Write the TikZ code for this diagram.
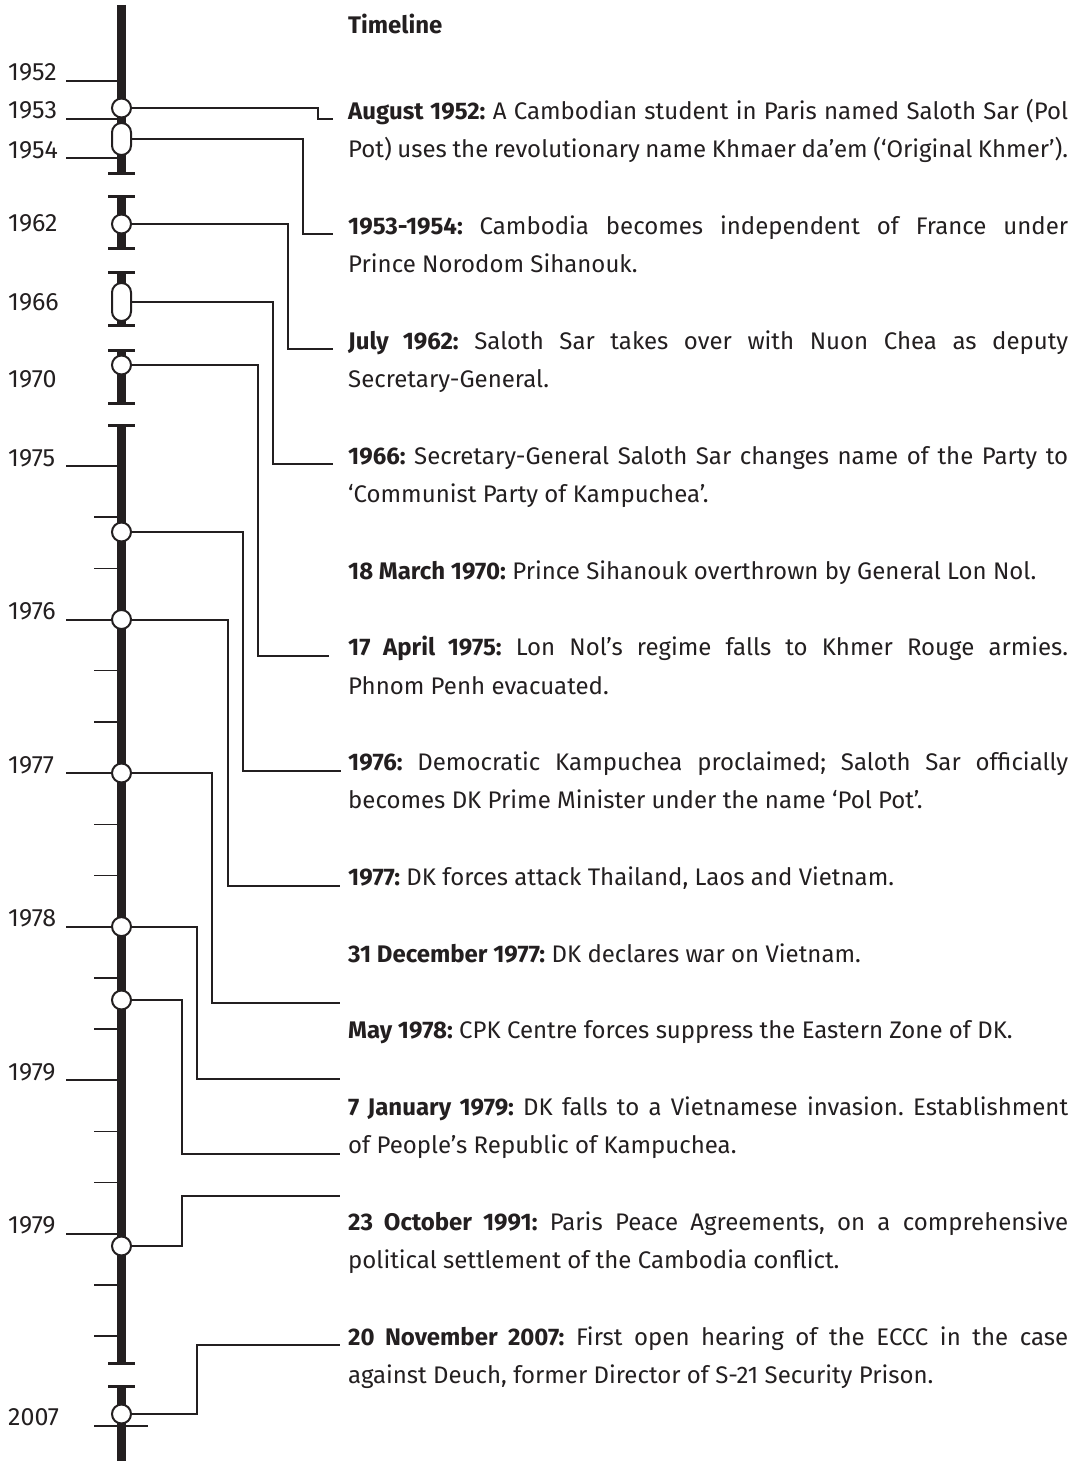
\documentclass[tikz,border=0pt]{standalone}
\usepackage{fontspec}
\setmainfont{Fira Sans}
\usetikzlibrary{positioning, calc}
\definecolor{tlblack}{HTML}{231F20}

\begin{document}
\frenchspacing
\hyphenpenalty=10000
\begin{tikzpicture}[
    x=1pt, y=-1pt,
    axisbar/.style={line width=9pt, tlblack},
    axiscap/.style={line width=3pt, tlblack},
    yeartick/.style={line width=2pt, tlblack},
    minortick/.style={line width=1.4pt, tlblack},
    dot/.style={circle, draw=tlblack, fill=white, line width=2pt, inner sep=0pt, minimum size=19pt},
    pill/.style={rectangle, rounded corners=9.5pt, draw=tlblack, fill=white, line width=2pt, inner sep=0pt, minimum width=19pt, minimum height=32pt},
    yearlabel/.style={anchor=base west, inner sep=0pt, text=tlblack, font=\fontsize{25}{28}\selectfont},
    eventtext/.style={anchor=base west, inner sep=0pt, text width=720pt, align=justify, text=tlblack, font=\fontsize{24}{38.3}\selectfont},
    link/.style={line width=2pt, tlblack}
]
\useasboundingbox (0,0) rectangle (1077,1461);

\draw[yeartick] (66,81) -- (117,81);
\draw[yeartick] (66,119) -- (117,119);
\draw[yeartick] (66,158) -- (117,158);
\foreach \k in {0,3,6,9,12,15}
  \draw[yeartick] (66,{466+51.18*\k}) -- (117,{466+51.18*\k});
\foreach \k in {1,2,4,5,7,8,10,11,13,14,16,17}
  \draw[minortick] (94,{466+51.18*\k}) -- (117,{466+51.18*\k});
\draw[yeartick] (94,1426) -- (148,1426);

\draw[axisbar] (121.5,5) -- (121.5,173);
\draw[axiscap] (108,173) -- (135,173);
\draw[axisbar] (121.5,196) -- (121.5,248);
\draw[axiscap] (108,196) -- (135,196) (108,248) -- (135,248);
\draw[axisbar] (121.5,272) -- (121.5,325);
\draw[axiscap] (108,272) -- (135,272) (108,325) -- (135,325);
\draw[axisbar] (121.5,350) -- (121.5,403);
\draw[axiscap] (108,350) -- (135,350) (108,403) -- (135,403);
\draw[axisbar] (121.5,425) -- (121.5,1363);
\draw[axiscap] (108,425) -- (135,425) (108,1363) -- (135,1363);
\draw[axisbar] (121.5,1386) -- (121.5,1461);
\draw[axiscap] (108,1386) -- (135,1386);

\node[yearlabel] (y1952) at (8,81) {1952};
\node[yearlabel] (y1953) at (8,119) {1953};
\node[yearlabel] (y1954) at (8,158) {1954};
\node[yearlabel] (y1962) at (8,231) {1962};
\node[yearlabel] (y1966) at (8,310) {1966};
\node[yearlabel] (y1970) at (8,387) {1970};
\node[yearlabel] (y1975) at (8,466) {1975};
\node[yearlabel] (y1976) at (8,619.5) {1976};
\node[yearlabel] (y1977) at (8,773) {1977};
\node[yearlabel] (y1978) at (8,926.6) {1978};
\node[yearlabel] (y1979) at (8,1080) {1979};
\node[yearlabel] (y1979b) at (8,1233.7) {1979};
\node[yearlabel] (y2007) at (8,1425) {2007};

\node[dot] (m1953) at (121.5,108) {};
\node[pill] (m1954) at (121.5,139) {};
\node[dot] (m1962) at (121.5,224) {};
\node[pill, minimum height=38pt] (m1966) at (121.5,302) {};
\node[dot] (m1970) at (121.5,365) {};
\node[dot] (m1975) at (121.5,532) {};
\node[dot] (m1976) at (121.5,619.5) {};
\node[dot] (m1977) at (121.5,773) {};
\node[dot] (m1978) at (121.5,926.6) {};
\node[dot] (m1978b) at (121.5,1000) {};
\node[dot] (m1979) at (121.5,1246) {};
\node[dot] (m2007) at (121.5,1414) {};

\node[anchor=base west, inner sep=0pt, text=tlblack, font=\fontsize{24}{30}\selectfont\bfseries] (title) at (348,34) {Timeline};

\node[eventtext] (ev1952) at (348,119.5) {\textbf{August 1952:} A Cambodian student in Paris named Saloth Sar (Pol\linebreak Pot) uses the revolutionary name Khmaer da’em (‘Original Khmer’).};
\node[eventtext] (ev1953) at (348,234.4) {\textbf{1953-1954:} Cambodia becomes independent of France under\linebreak Prince Norodom Sihanouk.};
\node[eventtext] (ev1962) at (348,349.3) {\textbf{July 1962:} Saloth Sar takes over with Nuon Chea as deputy\linebreak Secretary-General.};
\node[eventtext] (ev1966) at (348,464.2) {\textbf{1966:} Secretary-General Saloth Sar changes name of the Party to\linebreak ‘Communist Party of Kampuchea’.};
\node[eventtext] (ev1970) at (348,579.1) {\textbf{18 March 1970:} Prince Sihanouk overthrown by General Lon Nol.};
\node[eventtext] (ev1975) at (348,655.7) {\textbf{17 April 1975:} Lon Nol’s regime falls to Khmer Rouge armies.\linebreak Phnom Penh evacuated.};
\node[eventtext] (ev1976) at (348,770.6) {\textbf{1976:} Democratic Kampuchea proclaimed; Saloth Sar officially\linebreak becomes DK Prime Minister under the name ‘Pol Pot’.};
\node[eventtext] (ev1977) at (348,885.5) {\textbf{1977:} DK forces attack Thailand, Laos and Vietnam.};
\node[eventtext] (ev1977b) at (348,962.1) {\textbf{31 December 1977:} DK declares war on Vietnam.};
\node[eventtext] (ev1978) at (348,1038.7) {\textbf{May 1978:} CPK Centre forces suppress the Eastern Zone of DK.};
\node[eventtext] (ev1979) at (348,1115.3) {\textbf{7 January 1979:} DK falls to a Vietnamese invasion. Establishment\linebreak of People’s Republic of Kampuchea.};
\node[eventtext] (ev1991) at (348,1230.2) {\textbf{23 October 1991:} Paris Peace Agreements, on a comprehensive\linebreak political settlement of the Cambodia conflict.};
\node[eventtext] (ev2007) at (348,1345.1) {\textbf{20 November 2007:} First open hearing of the ECCC in the case\linebreak against Deuch, former Director of S-21 Security Prison.};

\coordinate (gap1977) at (340,1003);
\coordinate (gap1978) at (340,1079);
\coordinate (gap1991) at (340,1196);

\draw[link] (m1953.east) -- ++(186,0) |- ([xshift=-15pt]ev1952.base west);
\draw[link] (m1954.east) -- ++(171,0) |- ([xshift=-15pt]ev1953.base west);
\draw[link] (m1962.east) -- ++(156,0) |- ([xshift=-15pt]ev1962.base west);
\draw[link] (m1966.east) -- ++(141,0) |- ([xshift=-15pt]ev1966.base west);
\draw[link] (m1970.east) -- ++(126,0) |- ([xshift=-19pt]ev1975.base west);
\draw[link] (m1975.east) -- ++(111,0) |- ([xshift=-7pt]ev1976.base west);
\draw[link] (m1976.east) -- ++(96,0) |- ([xshift=-8pt]ev1977.base west);
\draw[link] (m1977.east) -- ++(80,0) |- (gap1977);
\draw[link] (m1978.east) -- ++(65,0) |- (gap1978);
\draw[link] (m1978b.east) -- ++(50,0) |- ([xshift=-8pt, yshift=-38.3pt]ev1979.base west);
\draw[link] (m1979.east) -- ++(50,0) |- (gap1991);
\draw[link] (m2007.east) -- ++(65,0) |- ([xshift=-8pt]ev2007.base west);

\end{tikzpicture}
\end{document}
